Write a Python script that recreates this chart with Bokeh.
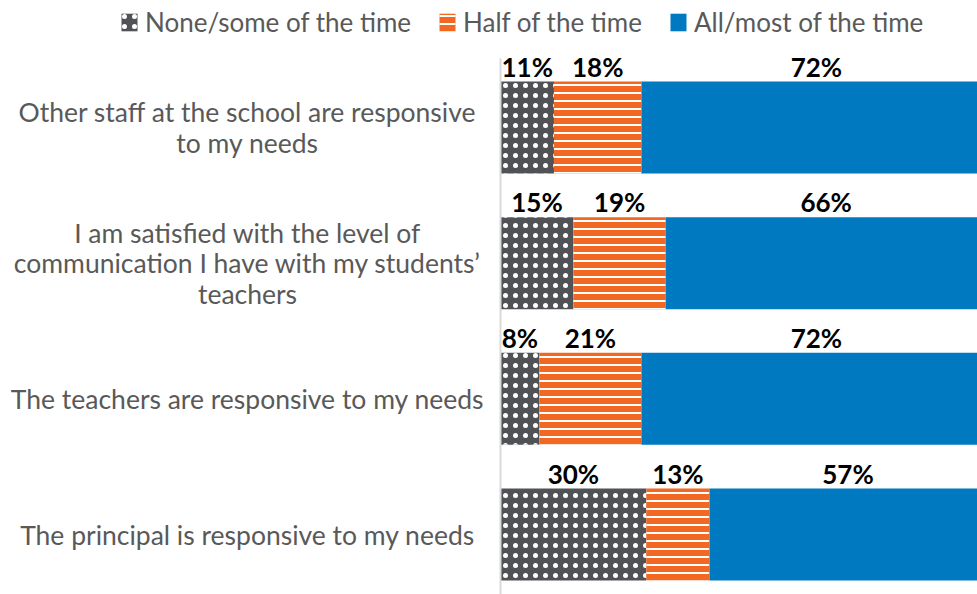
from bokeh.plotting import figure
from bokeh.models import Range1d, ColumnDataSource, Legend, LegendItem
from bokeh.core.properties import value
from bokeh.embed import file_html
from bokeh.resources import INLINE

# ---- data ----
categories = [
    "Other staff at the school are responsive\nto my needs",
    "I am satisfied with the level of\ncommunication I have with my students\u2019\nteachers",
    "The teachers are responsive to my needs",
    "The principal is responsive to my needs",
]
series = ["None/some of the time", "Half of the time", "All/most of the time"]
none_some = [11, 15, 8, 30]
half = [18, 19, 21, 13]
all_most = [72, 66, 72, 57]

colors = ["#515256", "#F26722", "#0079C1"]
hatches = ["dot", "horizontal_line", " "]
hatch_scales = [10, 8, 8]
hatch_weights = [0.5, 2, 1]

# ---- geometry ----
W, H = 977, 594
PX_PER_PCT = 4.86
AXIS_X = 500          # frame px of the zero line
ROW_PX = 135.67
TOP_ROW_FRAME = 127   # frame px of first row centre from top

x0 = -AXIS_X / PX_PER_PCT
x1 = (W - AXIS_X) / PX_PER_PCT
n = len(categories)
ytop = (n - 1) + TOP_ROW_FRAME / ROW_PX
ybot = ytop - H / ROW_PX

p = figure(width=W, height=H, output_backend="svg", toolbar_location=None,
           x_range=Range1d(x0, x1), y_range=Range1d(ybot, ytop),
           min_border=0, outline_line_color=None)
p.xaxis.visible = False
p.yaxis.visible = False
p.grid.visible = False
p.background_fill_color = "white"
p.border_fill_color = "white"

ys = [n - 1 - i for i in range(n)]
bar_h = 92 / ROW_PX

vals = [none_some, half, all_most]
acc = [0] * n
items = []
label_x, label_y, label_t = [], [], []
for k, (name, v) in enumerate(zip(series, vals)):
    left = list(acc)
    right = [a + b for a, b in zip(acc, v)]
    src = ColumnDataSource(dict(y=ys, left=left, right=right))
    r = p.hbar(y="y", left="left", right="right", height=bar_h, source=src,
               fill_color=colors[k], line_color=None,
               hatch_pattern=hatches[k], hatch_color="white",
               hatch_scale=hatch_scales[k], hatch_weight=hatch_weights[k])
    items.append(LegendItem(label=name, renderers=[r]))
    for i in range(n):
        label_x.append((left[i] + right[i]) / 2)
        label_y.append(ys[i] + bar_h / 2)
        label_t.append(f"{v[i]}%")
    acc = right

# percent labels
p.text(x=label_x, y=label_y, text=label_t, text_align="center",
       text_baseline="middle", y_offset=-15,
       text_font=value("Lato"), text_font_style="bold",
       text_font_size="26px", text_color="black")

# category labels
p.text(x=[(247 - AXIS_X) / PX_PER_PCT] * n, y=ys, text=categories,
       text_align="center", text_baseline="middle", text_line_height=0.95,
       text_font=value("Lato"), text_font_size="26.5px", text_color="#595959")

# zero axis line
p.segment(x0=[0], x1=[0], y0=[ytop - 58 / ROW_PX], y1=[ybot],
          line_color="#d9d9d9", line_width=2)

legend = Legend(items=items, orientation="horizontal", location=(119, 556),
                glyph_width=20, glyph_height=22, label_standoff=6, spacing=26,
                padding=0, margin=0, background_fill_alpha=0, border_line_color=None,
                label_text_font="Lato", label_text_font_size="26px",
                label_text_color="#595959")
p.add_layout(legend)

open("out.html", "w").write(file_html(p, INLINE))
